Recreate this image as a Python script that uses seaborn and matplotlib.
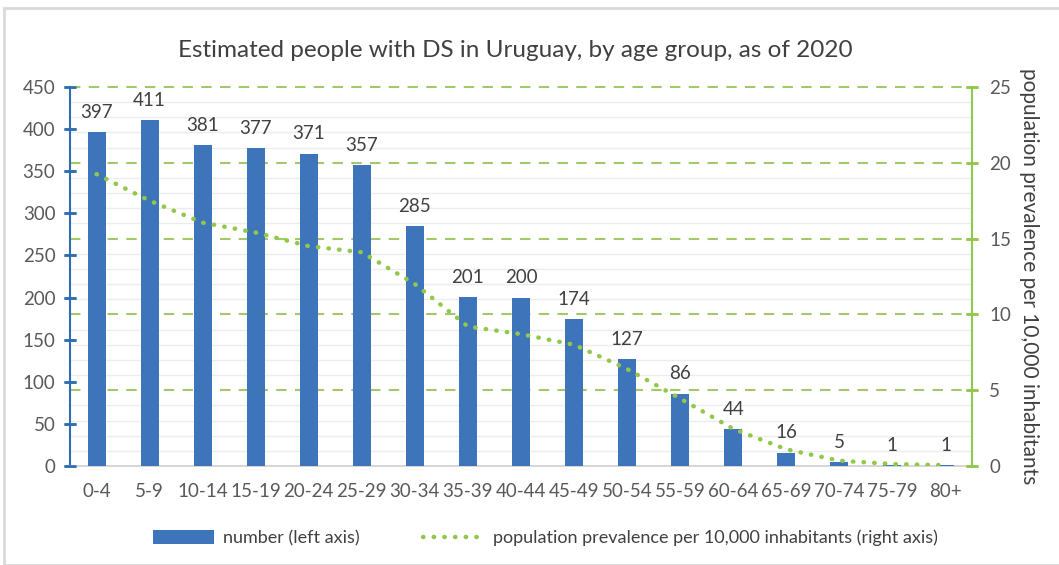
import numpy as np
import seaborn as sns
import matplotlib.pyplot as plt
from matplotlib.patches import Rectangle, Patch
from matplotlib.lines import Line2D

# datos
age_groups = ["0-4", "5-9", "10-14", "15-19", "20-24", "25-29", "30-34", "35-39", "40-44",
              "45-49", "50-54", "55-59", "60-64", "65-69", "70-74", "75-79", "80+"]
people = [397, 411, 381, 377, 371, 357, 285, 201, 200, 174, 127, 86, 44, 16, 5, 1, 1]
prevalence = [19.25, 17.5, 16.05, 15.4, 14.5, 14.1, 12.0, 9.2, 8.7, 8.0, 6.4, 4.45, 2.45,
              1.1, 0.35, 0.13, 0.05]
left_ticks = list(range(0, 451, 50))
right_ticks = [0, 5, 10, 15, 20, 25]

sns.set_theme(style="ticks")
plt.rcParams['font.family'] = ['Lato', 'DejaVu Sans']

BLUE = "#3D74BA"
AXIS_BLUE = "#2E6DB0"
GREEN = "#92C84A"
GRID_GREEN = "#A3C86A"
TXT = "#595959"

fig = plt.figure(figsize=(10.59, 5.65), dpi=100)
ax = fig.add_axes([70/1059, 99/565, 902/1059, 379/565])
ax2 = ax.twinx()

sns.barplot(x=age_groups, y=people, color=BLUE, width=0.34, saturation=1, linewidth=0,
            ax=ax, zorder=3)
ax.bar_label(ax.containers[0], padding=8, fontsize=13.5, color="#404040")
ax.set_ylim(0, 450)
ax.set_xlim(-0.5, len(age_groups) - 0.5)
ax.set_yticks(left_ticks)
ax.tick_params(axis="x", length=0, labelsize=13.5, labelcolor=TXT, pad=12)
for s in ["top", "right"]:
    ax.spines[s].set_visible(False)
ax.spines["left"].set_color(AXIS_BLUE)
ax.spines["left"].set_linewidth(1.5)
ax.spines["bottom"].set_color("#D0D0D0")
ax.grid(False)
# rejilla: verde discontinua cada 5 del eje derecho, gris cada 1
for t in np.arange(1, 26, 1):
    y = t * 450 / 25
    if t % 5 == 0:
        ax.axhline(y, color=GRID_GREEN, linewidth=1.5, linestyle=(0, (5, 4)), zorder=1,
                   clip_on=False)
    else:
        ax.axhline(y, color="#ECECEC", linewidth=1, zorder=0.5)

sns.lineplot(x=age_groups, y=prevalence, ax=ax2, color=GREEN, linewidth=3.2,
             linestyle=(0, (0.1, 2.3)), dash_capstyle="round", sort=False, legend=False, zorder=4)
ax2.set_ylim(0, 25)
ax2.set_yticks(right_ticks)
ax2.grid(False)
for s in ["top", "left", "bottom"]:
    ax2.spines[s].set_visible(False)
ax2.spines["right"].set_color(GREEN)
ax2.spines["right"].set_linewidth(1.5)
ax2.set_ylabel("population prevalence per 10,000 inhabitants", rotation=-90, labelpad=20,
               fontsize=15, color="#404040")
ax.set_zorder(1)
ax2.set_zorder(2)
ax2.patch.set_visible(False)

ax.tick_params(axis="y", which="major", left=True, direction="inout", length=9,
               width=1.8, color=AXIS_BLUE, labelsize=13.5, labelcolor=TXT, pad=6)
ax2.tick_params(axis="y", which="major", right=True, direction="inout", length=9,
                width=1.8, color=GREEN, labelsize=13.5, labelcolor=TXT, pad=8)

# marcas cruzando los ejes (estilo Excel), dibujadas a mano porque con twinx no salian
ax.plot([0] * len(left_ticks), left_ticks, transform=ax.get_yaxis_transform(),
        linestyle="none", marker="_", markersize=9, markeredgewidth=1.8, color=AXIS_BLUE,
        clip_on=False, zorder=5)
ax2.plot([1] * len(right_ticks), right_ticks, transform=ax2.get_yaxis_transform(),
         linestyle="none", marker="_", markersize=9, markeredgewidth=1.8, color=GREEN,
         clip_on=False, zorder=5)

fig.text(0.487, 0.91, "Estimated people with DS in Uruguay, by age group, as of 2020",
         ha="center", va="center", fontsize=17.5, color="#404040")

handles = [Patch(facecolor=BLUE, edgecolor="none"),
           Line2D([0], [0], color=GREEN, linewidth=3.2, linestyle=(0, (0.1, 2.3)),
                  dash_capstyle="round")]
fig.legend(handles, ["number (left axis)",
                     "population prevalence per 10,000 inhabitants (right axis)"],
           loc="center", bbox_to_anchor=(0.515, 0.048), ncol=2, frameon=False, fontsize=13,
           labelcolor="#404040", handlelength=3.4, handleheight=0.8, handletextpad=0.5,
           columnspacing=3.5)

fig.patches.append(Rectangle((4/1059, 0), 1.2, 557/565, transform=fig.transFigure,
                             fill=False, edgecolor="#D9D9D9", linewidth=2))

fig.savefig("out.png", dpi=100)
